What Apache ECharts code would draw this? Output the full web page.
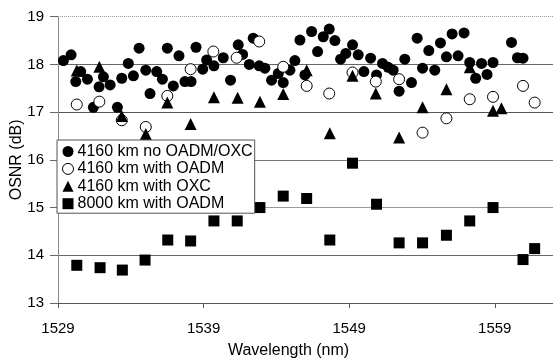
<!DOCTYPE html>
<html>
<head>
<meta charset="utf-8">
<script src="https://cdn.jsdelivr.net/npm/echarts@6/dist/echarts.min.js"></script>
<style>
html,body{margin:0;padding:0;background:#fff;}
#chart{width:553px;height:358px;}
</style>
</head>
<body>
<div id="chart"></div>
<script>
// Tick labels
const xTicks = [1529, 1539, 1549, 1559];

// 4160 km no OADM/OXC
const noOadmWl = [1529.37,1529.90,1530.22,1530.56,1531.02,1531.43,1531.82,1532.12,1532.58,1533.08,1533.38,1533.83,1534.18,1534.57,1535.03,1535.32,1535.78,1536.17,1536.51,1536.92,1537.31,1537.72,1538.14,1538.48,1538.94,1539.21,1539.71,1540.35,1540.85,1541.38,1541.68,1542.14,1542.41,1542.82,1543.21,1543.67,1544.13,1544.47,1544.93,1545.27,1545.62,1545.96,1546.42,1546.83,1547.22,1547.63,1548.02,1548.41,1548.77,1549.23,1549.62,1550.01,1550.47,1550.88,1551.29,1551.68,1552.02,1552.43,1552.82,1553.28,1553.67,1554.04,1554.47,1554.88,1555.27,1555.68,1556.07,1556.48,1556.89,1557.28,1557.69,1558.09,1558.47,1558.88,1560.15,1560.56,1560.94];
const noOadmOsnr = [18.08,18.20,17.64,17.85,17.69,17.10,17.53,17.74,17.57,17.10,17.71,18.02,17.76,18.34,17.88,17.39,17.85,17.69,18.34,17.55,18.18,17.64,17.64,18.36,17.90,18.09,17.97,18.14,17.67,18.41,18.21,18.00,18.55,17.97,17.92,17.67,17.81,17.62,17.88,18.08,18.51,17.78,18.69,18.27,18.58,18.74,18.50,18.11,18.23,18.41,18.20,17.85,18.13,17.78,18.02,17.94,17.88,17.44,18.11,17.62,18.55,17.92,18.29,17.88,18.45,18.16,18.64,18.18,18.66,18.04,17.71,18.02,17.79,18.04,18.46,18.14,18.13];

// 4160 km with OADM
const oadmWl = [1530.29,1531.84,1533.38,1535.03,1536.51,1538.11,1539.67,1541.27,1542.82,1544.47,1546.08,1547.63,1549.23,1550.83,1552.43,1554.04,1555.68,1557.28,1558.88,1560.94,1561.74];
const oadmOsnr = [17.16,17.22,16.83,16.69,17.34,17.90,18.27,18.14,18.48,17.95,17.55,17.39,17.83,17.64,17.69,16.57,16.87,17.27,17.32,17.55,17.20];

// 4160 km with OXC
const oxcWl = [1530.29,1531.84,1533.38,1535.03,1536.51,1538.11,1539.71,1541.34,1542.87,1544.47,1546.08,1547.67,1549.23,1550.83,1552.43,1554.04,1555.68,1557.28,1558.88,1559.46];
const oxcOsnr = [17.87,17.95,16.92,16.54,17.20,16.75,17.31,17.30,17.22,17.38,17.88,16.56,17.76,17.39,16.47,17.10,17.48,17.94,17.03,17.08];

// 8000 km with OADM
const longWl = [1530.29,1531.89,1533.42,1534.98,1536.54,1538.11,1539.71,1541.31,1542.87,1544.47,1546.08,1547.67,1549.23,1550.88,1552.43,1554.04,1555.68,1557.28,1558.88,1560.94,1561.74];
const longOsnr = [13.79,13.74,13.69,13.90,14.32,14.30,14.72,14.72,15.00,15.24,15.19,14.32,15.93,15.07,14.26,14.26,14.42,14.72,15.00,13.91,14.14];

const seriesNames = ['4160 km no OADM/OXC','4160 km with OADM','4160 km with OXC','8000 km with OADM'];

function zip(a, b){ return a.map((v,i)=>[v,b[i]]); }

const FONT = '"Liberation Sans", Arial, Helvetica, sans-serif';
const chart = echarts.init(document.getElementById('chart'), null, {renderer:'canvas'});
chart.setOption({
  animation:false,
  backgroundColor:'#fff',
  grid:{left:58, right:0, top:16.7, bottom:55, containLabel:false, outerBoundsMode:'none'},
  legend:{
    orient:'vertical', left:57, top:140,
    backgroundColor:'#fff', borderColor:'#555', borderWidth:1,
    padding:[3,2,1,5], itemGap:0.4, itemWidth:11, itemHeight:11,
    textStyle:{fontFamily:FONT, fontSize:16, color:'#000', lineHeight:17, padding:[0,0,0,-1]},
    data:[
      {name:seriesNames[0]},
      {name:seriesNames[1], itemStyle:{color:'#fff', borderColor:'#000', borderWidth:1}, icon:'path://M0,0 m-4.5,0 a4.5,4.5 0 1,0 9,0 a4.5,4.5 0 1,0 -9,0'},
      {name:seriesNames[2]},
      {name:seriesNames[3]}
    ]
  },
  xAxis:{
    type:'value', min:1529, max:1563,
    name:'Wavelength (nm)', nameLocation:'middle', nameGap:40,
    nameTextStyle:{fontFamily:FONT, fontSize:16, color:'#000', padding:[0,34,0,0]},
    axisLine:{show:true, lineStyle:{color:'#555', width:1}},
    axisTick:{show:true, length:5, lineStyle:{color:'#555'}, customValues:xTicks},
    axisLabel:{fontFamily:FONT, fontSize:15, color:'#000', margin:18, customValues:xTicks,
      formatter:function(v){ return String(v); }},
    splitLine:{show:false}
  },
  yAxis:{
    type:'value', min:13, max:19, interval:1,
    name:'OSNR (dB)', nameLocation:'middle', nameGap:33, nameMoveOverlap:false,
    nameTextStyle:{fontFamily:FONT, fontSize:16, color:'#000'},
    axisLine:{show:true, lineStyle:{color:'#888', width:1}},
    axisTick:{show:true, length:8, lineStyle:{color:'#666'}},
    axisLabel:{fontFamily:FONT, fontSize:15, color:'#000', margin:14},
    splitLine:{show:true, lineStyle:{color:['#555','#666','#999','#777','#555','#666','rgba(0,0,0,0)'], width:1}}
  },
  series:[
    {name:seriesNames[0], type:'scatter', symbol:'circle', symbolSize:11,
     itemStyle:{color:'#000', opacity:1}, data:zip(noOadmWl,noOadmOsnr),
     markLine:{silent:true, symbol:'none', label:{show:false},
       lineStyle:{type:'dotted', color:'#999', width:1}, data:[{yAxis:19}]}},
    {name:seriesNames[1], type:'scatter', symbol:'circle', symbolSize:11,
     itemStyle:{color:'#fff', borderColor:'#000', borderWidth:1, opacity:1}, data:zip(oadmWl,oadmOsnr)},
    {name:seriesNames[2], type:'scatter', symbol:'triangle', symbolSize:12,
     itemStyle:{color:'#000', opacity:1}, data:zip(oxcWl,oxcOsnr)},
    {name:seriesNames[3], type:'scatter', symbol:'rect', symbolSize:11,
     itemStyle:{color:'#000', opacity:1}, data:zip(longWl,longOsnr)}
  ]
});
</script>
</body>
</html>
